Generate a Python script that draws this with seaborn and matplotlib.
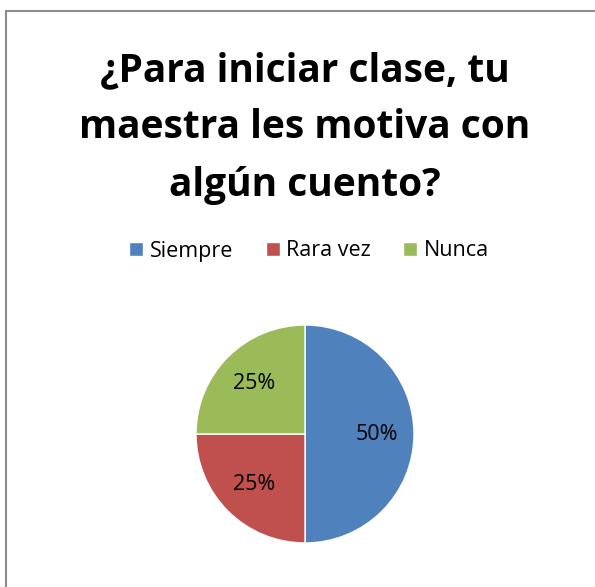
import matplotlib
matplotlib.use("Agg")
import matplotlib.pyplot as plt
import seaborn as sns
from matplotlib.patches import Rectangle

sns.set_theme(style="white")
plt.rcParams['font.family'] = ['Open Sans', 'DejaVu Sans']
plt.rcParams['text.color'] = 'black'

categories = ["Siempre", "Rara vez", "Nunca"]
values = [50, 25, 25]
colors = ["#4F81BD", "#C0504D", "#9BBB59"]
title = "¿Para iniciar clase, tu\nmaestra les motiva con\nalgún cuento?"

W, H = 595, 587
fig = plt.figure(figsize=(W / 100, H / 100), dpi=100)
fig.patch.set_facecolor("white")

# frame (extends past right/bottom edges)
fig.patches.append(Rectangle((6 / W, -0.1), 1.2, 1 - 11 / H + 0.1,
                             transform=fig.transFigure, fill=False,
                             edgecolor="#8c8c8c", linewidth=1.5))

fig.text(305 / W, 1 - 128 / H, title, ha="center", va="center",
         fontsize=28, fontweight="bold", color="black", linespacing=1.62)

cx, cy, r = 305, 434, 109
ax = fig.add_axes([(cx - r) / W, (H - cy - r) / H, 2 * r / W, 2 * r / H])
wedges, texts, autotexts = ax.pie(values, colors=colors, startangle=90,
                                  counterclock=False, radius=1,
                                  autopct="%d%%", pctdistance=0.66,
                                  textprops=dict(fontsize=15.5, color="black"))
ax.set_xlim(-1, 1)
ax.set_ylim(-1, 1)
ax.set_aspect("equal")
ax.axis("off")

handles = [Rectangle((0, 0), 1, 1, facecolor=c) for c in colors]
fig.legend(handles, categories, loc="center", bbox_to_anchor=(309 / W, 1 - 251 / H),
           ncol=3, frameon=False, fontsize=15.5, handlelength=0.65, handleheight=0.65,
           handletextpad=0.3, columnspacing=1.5, labelcolor="black")

fig.savefig("out.png", dpi=100, facecolor="white")
